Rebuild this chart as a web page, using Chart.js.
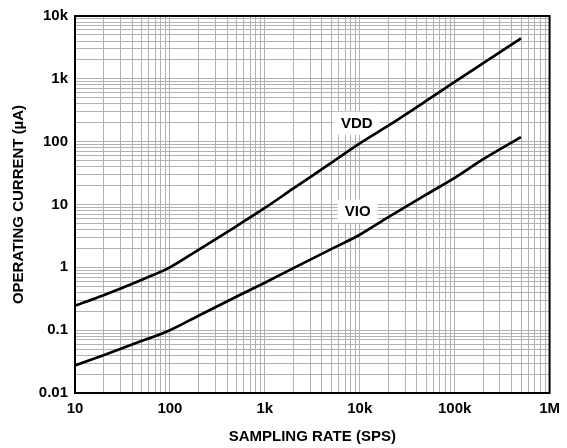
<!DOCTYPE html>
<html>
<head>
<meta charset="utf-8">
<script src="https://cdn.jsdelivr.net/npm/chart.js@4.4.1/dist/chart.umd.min.js"></script>
<style>
  html, body { margin: 0; padding: 0; background: #fff; }
  #wrap { width: 567px; height: 448px; position: relative; }
</style>
</head>
<body>
<div id="wrap"><canvas id="chart"></canvas></div>
<script>
// ==============================
//  DATA
// ==============================
// sampling rate (SPS) vs operating current (µA)
const RATE_SPS = [10, 20, 50, 100, 200, 500, 1e3, 2e3, 5e3, 1e4, 2e4, 5e4, 1e5, 2e5, 5e5];
const VDD_UA   = [0.245, 0.36, 0.63, 1.0, 1.9, 4.5, 8.8, 18, 46, 94, 180, 445, 897, 1780, 4400];
const VIO_UA   = [0.0275, 0.040, 0.067, 0.1, 0.17, 0.34, 0.57, 0.97, 1.95, 3.3, 6.3, 14.4, 26.6, 52.6, 118];

const X_TICKS  = [10, 100, 1e3, 1e4, 1e5, 1e6];
const X_LABELS = ['10', '100', '1k', '10k', '100k', '1M'];
const Y_TICKS  = [0.01, 0.1, 1, 10, 100, 1e3, 1e4];
const Y_LABELS = ['0.01', '0.1', '1', '10', '100', '1k', '10k'];

// curve names, placed at a rate / current on the axes
const TAGS = [
  { text: 'VDD', x: 9300, y: 200 },
  { text: 'VIO', x: 9500, y: 8 },
];

const FONT = '"Liberation Sans", Arial, Helvetica, sans-serif';

// ==============================
//  HELPERS
// ==============================
// every 1..9 multiple inside each decade -> one gridline each
function decadeGrid(decades) {
  const out = [];
  for (let i = 0; i < decades.length - 1; i++) {
    for (let m = 1; m < 10; m++) out.push({ value: decades[i] * m });
  }
  out.push({ value: decades[decades.length - 1] });
  return out;
}

function decadeLabel(value, ticks, labels) {
  const i = ticks.findIndex(t => Math.abs(t - value) / t < 1e-6);
  return i < 0 ? '' : labels[i];
}

// black box around the plot area
const framePlugin = {
  id: 'frame',
  afterDraw(chart) {
    const { ctx, chartArea: a } = chart;
    ctx.save();
    ctx.strokeStyle = '#000';
    ctx.lineWidth = 2;
    ctx.strokeRect(a.left, a.top, a.right - a.left, a.bottom - a.top);
    ctx.restore();
  }
};

// white-boxed curve names, under the curves but over the grid
const tagPlugin = {
  id: 'tags',
  beforeDatasetsDraw(chart) {
    const { ctx, scales: { x, y } } = chart;
    ctx.save();
    ctx.font = 'bold 15px ' + FONT;
    ctx.textAlign = 'center';
    ctx.textBaseline = 'middle';
    TAGS.forEach(t => {
      const px = x.getPixelForValue(t.x);
      const py = y.getPixelForValue(t.y);
      const w = ctx.measureText(t.text).width;
      ctx.fillStyle = '#fff';
      ctx.fillRect(px - w / 2 - 7, py - 11, w + 14, 23);
      ctx.fillStyle = '#000';
      ctx.fillText(t.text, px, py + 1);
    });
    ctx.restore();
  }
};

// ==============================
//  CHART
// ==============================
const series = (vals) => RATE_SPS.map((r, i) => ({ x: r, y: vals[i] }));

const lineStyle = {
  borderColor: '#000',
  borderWidth: 2.7,
  pointRadius: 0,
  fill: false,
  cubicInterpolationMode: 'monotone',
};

const gridStyle = { color: '#b2b2b2', lineWidth: 1, drawTicks: false };
const labelFont = { family: FONT, size: 15, weight: 'bold' };

new Chart(document.getElementById('chart'), {
  type: 'line',
  data: {
    datasets: [
      { label: 'VDD', data: series(VDD_UA), ...lineStyle },
      { label: 'VIO', data: series(VIO_UA), ...lineStyle },
    ]
  },
  options: {
    responsive: true,
    maintainAspectRatio: false,
    animation: false,
    layout: { padding: { top: 13, right: 16, left: 0, bottom: 0 } },
    plugins: { legend: { display: false }, tooltip: { enabled: false } },
    scales: {
      x: {
        type: 'logarithmic',
        min: 10,
        max: 1e6,
        afterBuildTicks: s => { s.ticks = decadeGrid(X_TICKS); },
        afterFit: s => { s.height = 55; },
        grid: gridStyle,
        border: { display: false },
        ticks: {
          autoSkip: false,
          maxRotation: 0,
          padding: 7,
          color: '#000',
          font: labelFont,
          callback: v => decadeLabel(v, X_TICKS, X_LABELS),
        },
        title: {
          display: true,
          text: 'SAMPLING RATE (SPS)',
          color: '#000',
          font: labelFont,
          padding: { top: 0, bottom: 2 },
        }
      },
      y: {
        type: 'logarithmic',
        min: 0.01,
        max: 1e4,
        afterBuildTicks: s => { s.ticks = decadeGrid(Y_TICKS); },
        afterFit: s => { s.width = 75; },
        grid: gridStyle,
        border: { display: false },
        ticks: {
          autoSkip: false,
          padding: 7,
          color: '#000',
          font: labelFont,
          callback: v => decadeLabel(v, Y_TICKS, Y_LABELS),
        },
        title: {
          display: true,
          text: 'OPERATING CURRENT (µA)',
          color: '#000',
          font: labelFont,
          padding: { top: 10, bottom: 0 },
        }
      }
    }
  },
  plugins: [framePlugin, tagPlugin]
});
</script>
</body>
</html>
